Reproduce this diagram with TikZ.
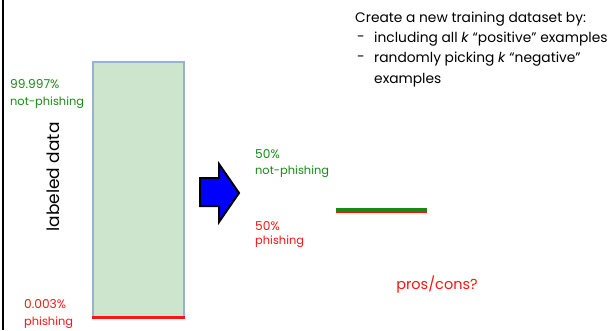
\documentclass[tikz,border=0pt]{standalone}
\usepackage{fontspec}
\setmainfont{Poppins}
\definecolor{tgreen}{RGB}{20,140,20}
\definecolor{tred}{RGB}{250,20,20}
\definecolor{boxfill}{RGB}{205,228,205}
\definecolor{boxdraw}{RGB}{150,180,210}
\tikzset{
  lbl/.style={inner sep=0pt, anchor=west, font=\fontsize{11.4}{13}\selectfont},
  info/.style={inner sep=0pt, anchor=west, font=\fontsize{13.8}{16}\selectfont},
}
\begin{document}
\begin{tikzpicture}[x=1pt,y=-1pt]
\useasboundingbox (0,0) rectangle (616,330);
\draw[line width=2pt] (3,0) -- (3,330);
% data box
\node[draw=boxdraw, fill=boxfill, line width=1.5pt, minimum width=91pt, minimum height=255pt, inner sep=0pt, anchor=north west] (box) at (92,61) {};
\draw[tred, line width=2.5pt] (box.south west) -- (box.south east);
\node[rotate=90, inner sep=0pt, font=\fontsize{17}{19}\selectfont] (ld) at (53,177) {labeled data};
\node[lbl, tgreen, font=\fontsize{12.2}{14}\selectfont] (g1) at (10,84) {99.997\%};
\node[lbl, tgreen] (g2) at (10,103) {not-phishing};
\node[lbl, tred, font=\fontsize{12.2}{14}\selectfont] (r1) at (24,304) {0.003\%};
\node[lbl, tred] (r2) at (24,323) {phishing};
% arrow
\draw[line width=2pt, fill=blue, line join=miter] (200,178) -- (219,178) -- (219,164) -- (239,193) -- (219,222) -- (219,206) -- (200,206) -- cycle;
\node[lbl, tgreen, font=\fontsize{12.2}{14}\selectfont] (g3) at (255,154) {50\%};
\node[lbl, tgreen] (g4) at (255,172) {not-phishing};
\node[lbl, tred, font=\fontsize{12.2}{14}\selectfont] (r3) at (255,226) {50\%};
\node[lbl, tred] (r4) at (255,242) {phishing};
% new dataset
\coordinate (na) at (336,209);
\coordinate (nb) at (427,209);
\coordinate (nc) at (336,211.5);
\coordinate (nd) at (427,211.5);
\draw[tred, line width=2pt] (nc) -- (nd);
\draw[tgreen, line width=3pt] (na) -- (nb);
% text
\node[info] (t1) at (355,19) {Create a new training dataset by:};
\node[info] (d1) at (357,39) {-};
\node[info] (t2) at (374,39) {including all \textit{k} “positive” examples};
\node[info] (d2) at (357,59) {-};
\node[info] (t3) at (374,59) {randomly picking \textit{k} “negative”};
\node[info] (t4) at (374,80) {examples};
\node[inner sep=0pt, tred, font=\fontsize{14.5}{16}\selectfont] (pc) at (437,285) {pros/cons?};
\end{tikzpicture}
\end{document}
